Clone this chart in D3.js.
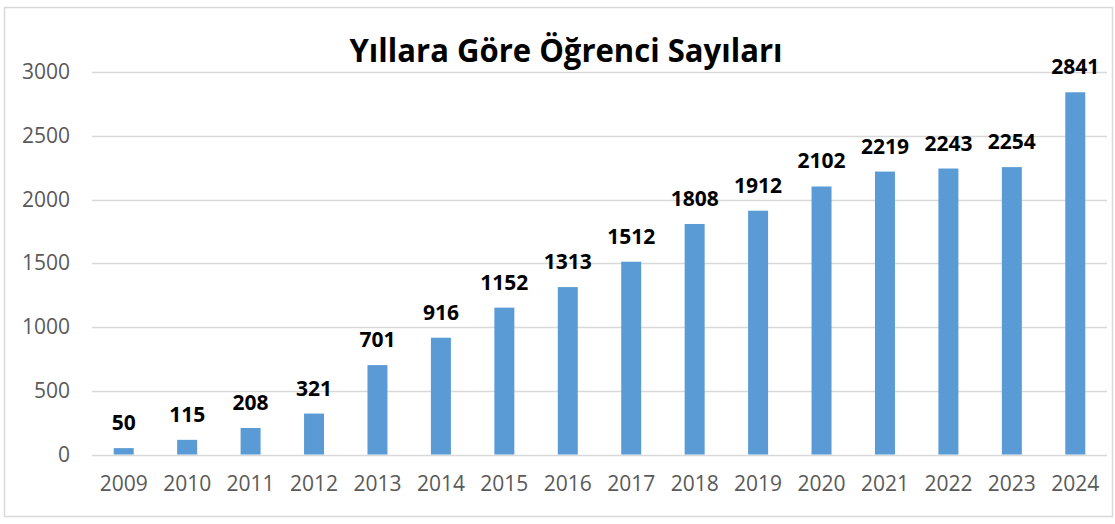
<!DOCTYPE html>
<html>
<head>
<meta charset="utf-8">
<script src="https://cdn.jsdelivr.net/npm/d3@7"></script>
<style>
  body { margin: 0; background: #fff; }
  text { font-family: "Open Sans", "Noto Sans", sans-serif; }
</style>
</head>
<body>
<div id="chart"></div>
<script>
// data
const years = ["2009","2010","2011","2012","2013","2014","2015","2016","2017","2018","2019","2020","2021","2022","2023","2024"];
const students = [50,115,208,321,701,916,1152,1313,1512,1808,1912,2102,2219,2243,2254,2841];
const yTicks = [0,500,1000,1500,2000,2500,3000];
const title = "Yıllara Göre Öğrenci Sayıları";

const W = 1115, H = 524;
const margin = {top: 72, right: 8, bottom: 70, left: 92},
    width = 1107 - margin.left,
    height = 454.5 - margin.top;

const svg = d3.select("#chart")
  .append("svg")
  .attr("width", W)
  .attr("height", H);

// outer frame
svg.append("rect")
  .attr("x", 4.5).attr("y", 7.5)
  .attr("width", 1108).attr("height", 509)
  .attr("fill", "#fff")
  .attr("stroke", "#d9d9d9")
  .attr("stroke-width", 1.5);

const g = svg.append("g")
  .attr("transform", `translate(${margin.left},${margin.top})`);

const x = d3.scaleBand()
  .domain(years)
  .range([0, width])
  .paddingInner(0.685)
  .paddingOuter(0.3425);

const y = d3.scaleLinear()
  .domain([0, 3000])
  .range([height, 0]);

// gridlines
g.append("g")
  .selectAll("line")
  .data(yTicks)
  .enter()
  .append("line")
    .attr("x1", 0)
    .attr("x2", width)
    .attr("y1", d => Math.round(y(d)) + 0.5)
    .attr("y2", d => Math.round(y(d)) + 0.5)
    .attr("stroke", "#d9d9d9")
    .attr("stroke-width", 1.5);

// y axis labels
const yAxis = g.append("g")
  .call(d3.axisLeft(y).tickValues(yTicks).tickFormat(d3.format("d")).tickSize(0).tickPadding(22));
yAxis.select(".domain").remove();
yAxis.selectAll("text")
  .attr("fill", "#595959")
  .style("font-size", "21px");

// x axis labels
const xAxis = g.append("g")
  .attr("transform", `translate(0,${height})`)
  .call(d3.axisBottom(x).tickSize(0).tickPadding(22));
xAxis.select(".domain").remove();
xAxis.selectAll("text")
  .attr("fill", "#595959")
  .style("font-size", "21px");

// bars
g.append("g")
  .selectAll("rect")
  .data(students)
  .enter()
  .append("rect")
    .attr("x", (d, i) => x(years[i]))
    .attr("y", d => y(d))
    .attr("width", x.bandwidth())
    .attr("height", d => height - y(d))
    .attr("fill", "#5b9bd5");

// value labels
g.append("g")
  .selectAll("text")
  .data(students)
  .enter()
  .append("text")
    .attr("x", (d, i) => x(years[i]) + x.bandwidth() / 2)
    .attr("y", d => y(d) - 18)
    .attr("text-anchor", "middle")
    .attr("fill", "#000")
    .style("font-size", "21px")
    .style("font-weight", "bold")
    .text(d => d);

// title
svg.append("text")
  .attr("x", 566)
  .attr("y", 62)
  .attr("text-anchor", "middle")
  .style("font-size", "32px")
  .style("font-weight", "bold")
  .attr("textLength", 433)
  .attr("lengthAdjust", "spacingAndGlyphs")
  .text(title);
</script>
</body>
</html>
